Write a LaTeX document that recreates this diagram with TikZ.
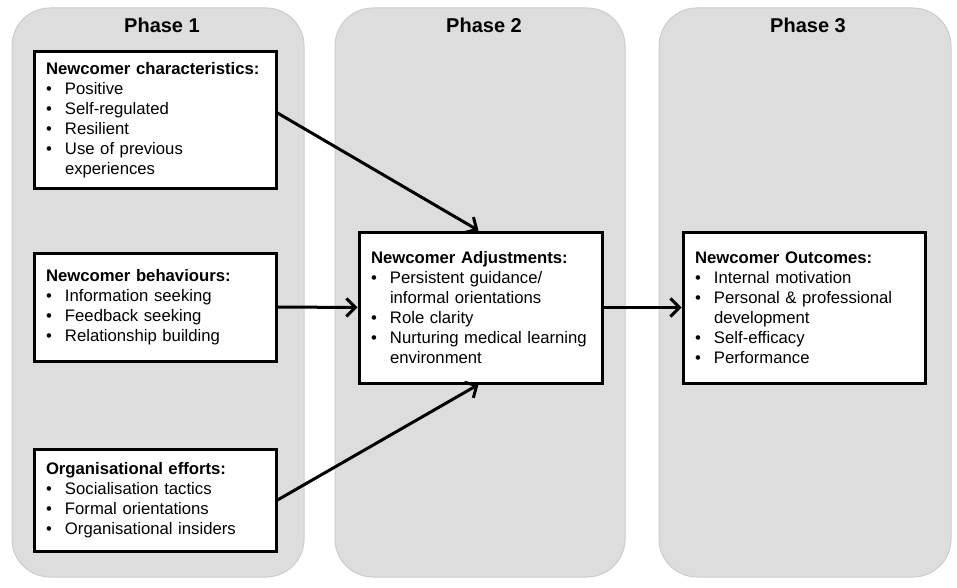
\documentclass[tikz,border=0pt]{standalone}
\usepackage{fontspec}
\setmainfont{Liberation Sans}
\usetikzlibrary{arrows.meta}
\newcommand{\bul}{\makebox[19pt][l]{\textbullet}}
\newcommand{\nob}{\hspace*{19pt}}
\tikzset{
  panel/.style={fill={rgb,255:red,221;green,221;blue,221}, draw={rgb,255:red,205;green,205;blue,205}, line width=1pt, rounded corners=38pt},
  phasetitle/.style={font=\fontsize{20}{24}\selectfont\bfseries, inner sep=0pt},
  infobox/.style={draw=black, fill=white, line width=3pt, inner xsep=12pt, inner ysep=4pt, align=left,
    font=\fontsize{16.7}{20}\selectfont, text width=218pt},
  link/.style={line width=3pt, -{Straight Barb[length=9pt,width=18pt,line width=3pt]}}
}
\begin{document}
\begin{tikzpicture}[x=1pt,y=-1pt]
\useasboundingbox (0,0) rectangle (957,588);
\fill[white] (0,0) rectangle (957,588);
% panels
\draw[panel] (12,8) rectangle (304,577);
\draw[panel] (335,8) rectangle (625,577);
\draw[panel] (659,8) rectangle (951,577);
\node[phasetitle] (t1) at (162,25) {Phase 1};
\node[phasetitle] (t2) at (484,25) {Phase 2};
\node[phasetitle] (t3) at (808,25) {Phase 3};
% boxes
\node[infobox, minimum height=136pt] (c1) at (155,120) {\textbf{Newcomer characteristics:}\\
\bul Positive\\
\bul Self-regulated\\
\bul Resilient\\
\bul Use of previous\\
\nob experiences};
\node[infobox, minimum height=108pt] (c2) at (155,307) {\textbf{Newcomer behaviours:}\\
\bul Information seeking\\
\bul Feedback seeking\\
\bul Relationship building};
\node[infobox, minimum height=102pt] (c3) at (155,500) {\textbf{Organisational efforts:}\\
\bul Socialisation tactics\\
\bul Formal orientations\\
\bul Organisational insiders};
\node[infobox, minimum height=151pt, text width=219pt] (adj) at (480.5,307.5) {\textbf{Newcomer Adjustments:}\\
\bul Persistent guidance/\\
\nob informal orientations\\
\bul Role clarity\\
\bul Nurturing medical learning\\
\nob environment};
\node[infobox, minimum height=151pt] (out) at (804,307.5) {\textbf{Newcomer Outcomes:}\\
\bul Internal motivation\\
\bul Personal \& professional\\
\nob development\\
\bul Self-efficacy\\
\bul Performance};
% connectors
\draw[link] ([yshift=7pt]c1.east) -- ([xshift=-2pt]adj.north);
\draw[link] (c2.east) -- (adj.west);
\draw[link] (c3.east) -- ([xshift=-2pt]adj.south);
\draw[link] (adj.east) -- (out.west);
\end{tikzpicture}
\end{document}
